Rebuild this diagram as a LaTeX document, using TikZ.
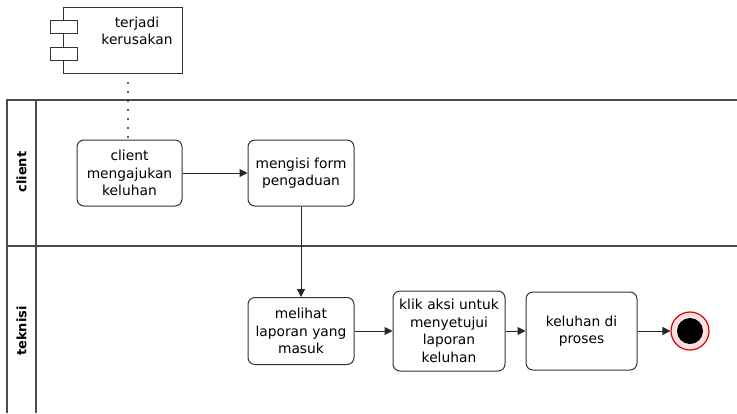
\documentclass[tikz,border=0pt]{standalone}
\usepackage{fontspec}
\setmainfont{DejaVu Sans}
\usetikzlibrary{arrows.meta}
\begin{document}
\begin{tikzpicture}[x=1pt,y=-1pt,
  txt/.style={font=\fontsize{13.8}{17.5}\selectfont},
  act/.style={txt,draw=black!80,line width=1pt,rounded corners=7pt,align=center,inner sep=0pt},
  flow/.style={draw=black!85,line width=1pt,-{Triangle[length=8pt,width=8pt]}},
  lane/.style={draw=black!70,line width=1.3pt},
  lanelabel/.style={rotate=90,font=\bfseries\fontsize{13}{15}\selectfont}]
\useasboundingbox (0,0) rectangle (737,413);

% swimlane frame
\draw[lane] (737,100) -- (7,100) -- (7,413);
\draw[lane] (36,100) -- (36,413);
\draw[lane] (7,246) -- (737,246);
\node[lanelabel] (lclient) at (21.5,172) {client};
\node[lanelabel] (lteknisi) at (21.5,331) {teknisi};

% component
\node[draw=black!80,line width=1pt,minimum width=119pt,minimum height=66pt] (comp) at (122.5,40) {};
\node[txt,align=center] (comptext) at (137,31) {terjadi\\kerusakan};
\draw[draw=black!80,line width=1pt,fill=white] (50,20) rectangle (77,33);
\draw[draw=black!80,line width=1pt,fill=white] (50,47) rectangle (77,60);

% activities
\node[act,minimum width=105pt,minimum height=66pt] (a1) at (129.5,173) {client\\mengajukan\\keluhan};
\node[act,minimum width=106pt,minimum height=66pt] (a2) at (301,173) {mengisi form\\pengaduan};
\node[act,minimum width=106pt,minimum height=67pt] (a3) at (301,331) {melihat\\laporan yang\\masuk};
\node[act,minimum width=112pt,minimum height=80pt] (a4) at (449,331) {klik aksi untuk\\menyetujui\\laporan\\keluhan};
\node[act,minimum width=111pt,minimum height=78pt] (a5) at (581.5,331) {keluhan di\\proses};

% final state
\node[circle,draw=red!85!black,fill=red!12,line width=1.2pt,minimum size=38pt,inner sep=0pt] (end) at (690,331) {};
\node[circle,fill=black,minimum size=26pt,inner sep=0pt] (endin) at (end.center) {};

% connectors
\coordinate (d0) at (128,83);
\coordinate (d1) at (a1.north -| d0);
\draw[black!85,line width=2.2pt,line cap=round,dash pattern=on 0pt off 9pt] (d0) -- (d1);
\draw[flow] (a1) -- (a2);
\draw[flow] (a2) -- (a3);
\draw[flow] (a3) -- (a4);
\draw[flow] (a4) -- (a5);
\draw[flow] (a5) -- (end);
\end{tikzpicture}
\end{document}
